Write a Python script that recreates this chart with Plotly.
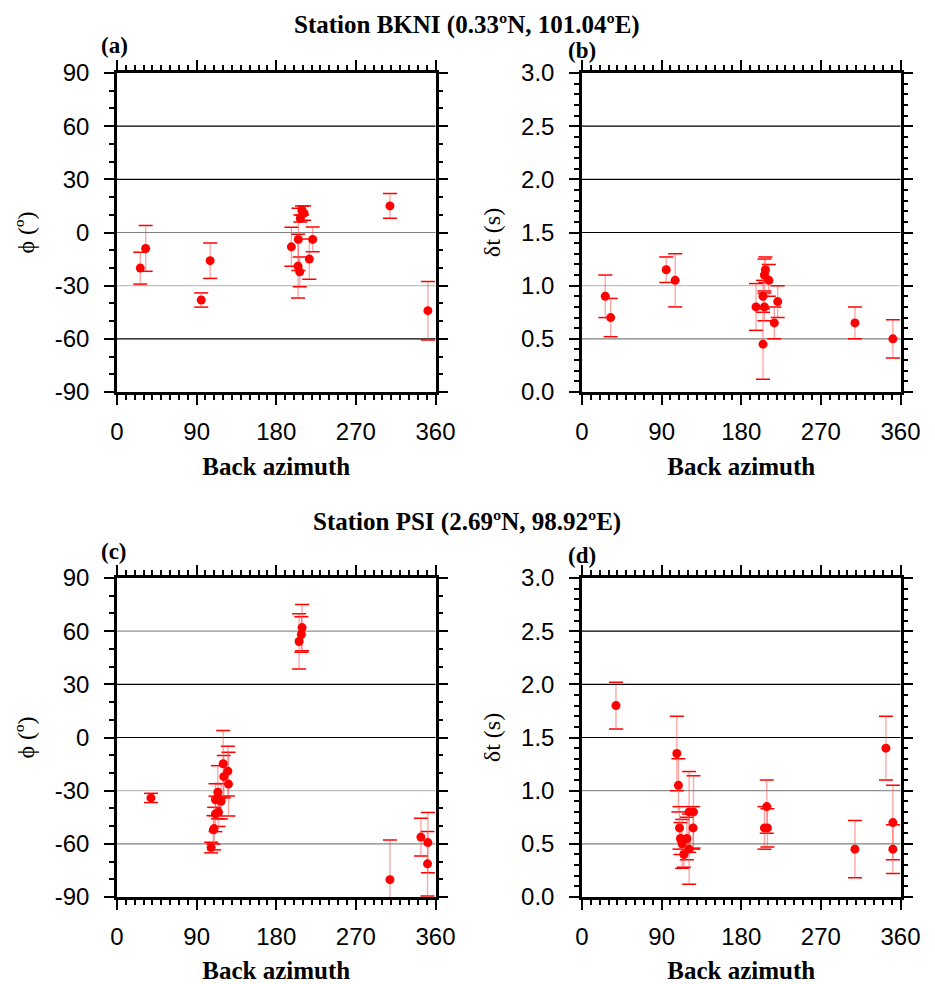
import plotly.graph_objects as go

# ---------------- data ----------------
# Station BKNI: panel (a) fast polarization, panel (b) delay time
baz_a = [26.3, 32.4, 95.2, 105.3, 197.1, 205.0, 204.6, 206.5, 207.2, 209.1, 211.4, 217.4, 221.2, 308.5, 351.4]
phi_a = [-20.1, -9.0, -38.1, -15.9, -8.1, -3.9, -19.0, -22.2, 7.9, 12.4, 10.9, -15.0, -3.9, 15.0, -44.1]
phi_a_err = [9, 12.9, 4, 10, 11, 17.6, 18, 8.4, 2, 2.5, 4, 11.4, 7, 7, 16.5]

baz_b = [26.3, 32.4, 95.2, 105.3, 196.7, 204.6, 204.6, 206.2, 206.2, 207.3, 211.2, 217.4, 221.2, 308.5, 351.4]
dt_b = [0.90, 0.70, 1.15, 1.05, 0.80, 0.90, 0.45, 0.80, 1.10, 1.15, 1.05, 0.65, 0.85, 0.65, 0.50]
dt_b_err = [0.20, 0.18, 0.12, 0.25, 0.22, 0.15, 0.33, 0.13, 0.15, 0.12, 0.15, 0.15, 0.15, 0.15, 0.18]

# Station PSI: panel (c) fast polarization, panel (d) delay time
baz_c = [38.4, 106.4, 109.0, 109.8, 111.3, 114.7, 111.3, 114.0, 117.7, 120.0, 120.7, 125.3, 126.0,
         205.8, 208.4, 209.2, 308.5, 343.5, 351.4, 351.0]
phi_c = [-34.1, -62.1, -52.1, -51.4, -43.1, -42.2, -35.1, -30.9, -36.0, -14.8, -22.1, -19.0, -26.3,
         54.2, 58.1, 62.0, -80.2, -56.2, -59.3, -71.3]
phi_c_err = [2.6, 3, 8, 12, 10, 8, 9, 15, 10, 18.7, 12, 14, 18,
             15.6, 10, 13, 22.4, 10.6, 17, 18.2]

baz_d = [38.4, 107.2, 109.0, 110.2, 111.3, 113.2, 115.1, 118.5, 121.1, 121.1, 125.6, 126.0,
         206.2, 208.8, 209.6, 308.5, 343.5, 351.4, 351.4]
dt_d = [1.80, 1.35, 1.05, 0.65, 0.55, 0.50, 0.40, 0.55, 0.80, 0.45, 0.65, 0.80,
        0.65, 0.85, 0.65, 0.45, 1.40, 0.70, 0.45]
dt_d_err = [0.22, 0.35, 0.25, 0.20, 0.15, 0.23, 0.12, 0.20, 0.38, 0.33, 0.20, 0.34,
            0.20, 0.25, 0.18, 0.27, 0.30, 0.35, 0.23]

# axis ticks
x_ticks = [0, 90, 180, 270, 360]
x_ticktext = ["0", "90", "180", "270", "360"]
phi_ticks = [-90, -60, -30, 0, 30, 60, 90]
phi_ticktext = ["-90", "-60", "-30", "0", "30", "60", "90"]
dt_ticks = [0.0, 0.5, 1.0, 1.5, 2.0, 2.5, 3.0]
dt_ticktext = ["0.0", "0.5", "1.0", "1.5", "2.0", "2.5", "3.0"]

# horizontal reference lines (value, colour) per panel
grid_a = [(60, "black"), (30, "black"), (0, "#808080"), (-30, "#c0c0c0"), (-60, "black")]
grid_b = [(2.5, "black"), (2.0, "black"), (1.5, "black"), (1.0, "#c0c0c0"), (0.5, "#808080")]
grid_c = [(60, "#909090"), (30, "black"), (0, "black"), (-30, "#c0c0c0"), (-60, "#808080")]
grid_d = [(2.5, "black"), (2.0, "black"), (1.5, "black"), (1.0, "#909090"), (0.5, "#808080")]

titles = ["Station BKNI (0.33ºN, 101.04ºE)", "Station PSI (2.69ºN, 98.92ºE)"]
panel_labels = ["(a)", "(b)", "(c)", "(d)"]

# the page body adds an 8 px margin, so the figure is drawn slightly smaller
OFF = 8
W, H = 935 - OFF, 984 - OFF

# ---------------- figure ----------------
fig = go.Figure()

panels = [
    (baz_a, phi_a, phi_a_err, "x", "y"),
    (baz_b, dt_b, dt_b_err, "x2", "y2"),
    (baz_c, phi_c, phi_c_err, "x3", "y3"),
    (baz_d, dt_d, dt_d_err, "x4", "y4"),
]

for bx, val, err, xa, ya in panels:
    # caps
    fig.add_trace(go.Scatter(
        x=bx + bx,
        y=[v + e for v, e in zip(val, err)] + [v - e for v, e in zip(val, err)],
        mode="markers", xaxis=xa, yaxis=ya, showlegend=False, hoverinfo="skip",
        marker=dict(symbol="line-ew", size=10, line=dict(color="red", width=1.5)),
    ))
    # points with pale stems
    fig.add_trace(go.Scatter(
        x=bx, y=val, mode="markers", xaxis=xa, yaxis=ya, showlegend=False,
        marker=dict(color="red", size=9, line=dict(width=0)),
        error_y=dict(type="data", array=err, color="rgba(255,70,70,0.5)", thickness=1.3, width=0),
    ))

def px_x(p):
    return (p - OFF) / W

def px_y(p):
    return 1 - (p - OFF) / H

xdom_l = [px_x(117), px_x(435.5)]
xdom_r = [px_x(582), px_x(900.5)]
ydom_t = [px_y(392), px_y(73)]
ydom_b = [px_y(897), px_y(578)]

tickfont = dict(family="Liberation Sans, Arial, sans-serif", size=24, color="black")
titlefont = dict(family="Liberation Serif, Times New Roman, serif", size=25, color="black")

def xaxis_cfg(dom, anchor):
    return dict(
        domain=dom, anchor=anchor, range=[0, 360], automargin=False,
        tickvals=x_ticks, ticktext=x_ticktext, tickfont=tickfont,
        ticks="outside", ticklen=10, tickwidth=1.5, tickcolor="black",
        minor=dict(dtick=10, tick0=0, ticks="outside", ticklen=5, tickwidth=1.5, tickcolor="black"),
        showline=True, linewidth=2.5, linecolor="black", mirror="ticks",
        showgrid=False, zeroline=False, ticklabelstandoff=6,
        title=dict(text="<b>Back azimuth</b>", font=titlefont, standoff=14),
    )

def yaxis_cfg(dom, anchor, kind):
    if kind == "phi":
        rng, tv, tt, md, ttl = [-90, 90], phi_ticks, phi_ticktext, 10, "ϕ (º)"
    else:
        rng, tv, tt, md, ttl = [0, 3], dt_ticks, dt_ticktext, 0.1, "δt (s)"
    return dict(
        domain=dom, anchor=anchor, range=rng, automargin=False,
        tickvals=tv, ticktext=tt, tickfont=tickfont,
        ticks="outside", ticklen=10, tickwidth=1.5, tickcolor="black",
        minor=dict(dtick=md, tick0=rng[0], ticks="outside", ticklen=5, tickwidth=1.5, tickcolor="black"),
        showline=True, linewidth=2.5, linecolor="black", mirror="ticks",
        showgrid=False, zeroline=False, ticklabelstandoff=10,
        title=dict(text=ttl, font=dict(family="Liberation Serif, Times New Roman, serif", size=24, color="black"), standoff=14),
    )

fig.update_layout(
    width=W, height=H, autosize=False,
    margin=dict(l=0, r=0, t=0, b=0, autoexpand=False),
    paper_bgcolor="white", plot_bgcolor="white",
    xaxis=xaxis_cfg(xdom_l, "y"),
    yaxis=yaxis_cfg(ydom_t, "x", "phi"),
    xaxis2=xaxis_cfg(xdom_r, "y2"),
    yaxis2=yaxis_cfg(ydom_t, "x2", "dt"),
    xaxis3=xaxis_cfg(xdom_l, "y3"),
    yaxis3=yaxis_cfg(ydom_b, "x3", "phi"),
    xaxis4=xaxis_cfg(xdom_r, "y4"),
    yaxis4=yaxis_cfg(ydom_b, "x4", "dt"),
)

shapes = []
for grid, xa, ya in [(grid_a, "x", "y"), (grid_b, "x2", "y2"), (grid_c, "x3", "y3"), (grid_d, "x4", "y4")]:
    for v, c in grid:
        shapes.append(dict(type="line", xref=xa + " domain", yref=ya, x0=0, x1=1, y0=v, y1=v,
                           line=dict(color=c, width=1.2), layer="below"))
fig.update_layout(shapes=shapes)

annos = []
bold_serif = dict(family="Liberation Serif, Times New Roman, serif", size=25, color="black")
annos.append(dict(text="<b>" + titles[0] + "</b>", x=px_x(467), y=px_y(9), xref="paper", yref="paper",
                  xanchor="center", yanchor="top", showarrow=False, font=bold_serif))
annos.append(dict(text="<b>" + titles[1] + "</b>", x=px_x(467), y=px_y(522), xref="paper", yref="paper",
                  xanchor="center", yanchor="middle", showarrow=False, font=bold_serif))
label_pos = [(99, 46), (566, 50), (99, 551), (566, 555)]
for lab, (lx, ly) in zip(panel_labels, label_pos):
    annos.append(dict(text="<b>" + lab + "</b>", x=px_x(lx), y=px_y(ly), xref="paper", yref="paper",
                      xanchor="left", yanchor="middle", showarrow=False,
                      font=dict(family="Liberation Serif, Times New Roman, serif", size=23, color="black")))
fig.update_layout(annotations=annos)

fig.write_html("out.html")
